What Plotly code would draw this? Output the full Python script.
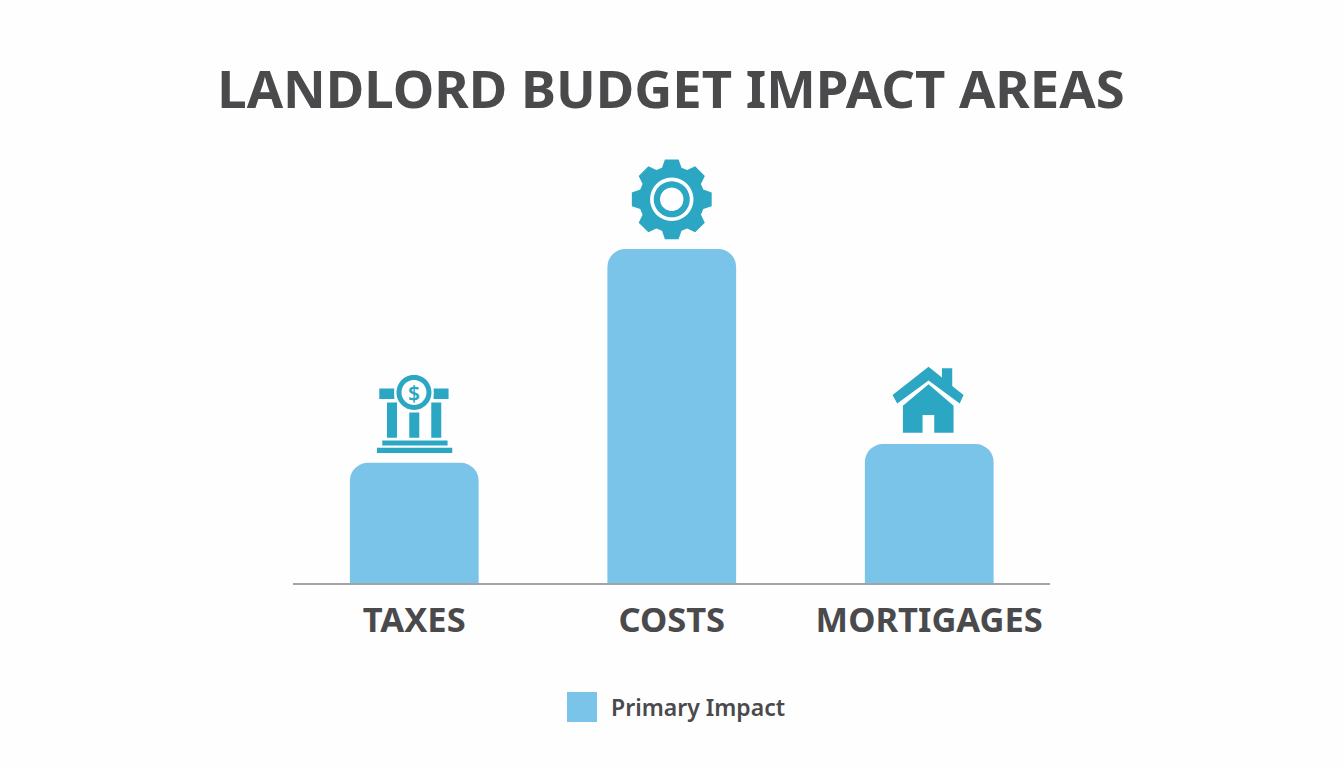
import math
import plotly.graph_objects as go

# Data
categories = ["TAXES", "COSTS", "MORTIGAGES"]
impact_values = [36, 100, 41.6]
series_name = "Primary Impact"
chart_title = "LANDLORD BUDGET IMPACT AREAS"

W, H = 1344, 768
FONT = "Noto Sans"
TEXT = "#4a4a4c"
BAR = "#7bc4e9"
TEAL = "#2ba7c3"
BG = "#fefefe"


def poly(pts):
    return "M" + "L".join(f"{x:.2f},{y:.2f}" for x, y in pts) + "Z"


def rect(x0, x1, y0, y1):
    return poly([(x0, y0), (x1, y0), (x1, y1), (x0, y1)])


def circle(cx, cy, r, n=48):
    return poly([(cx + r * math.cos(2 * math.pi * i / n), cy + r * math.sin(2 * math.pi * i / n)) for i in range(n)])


def gear(cx, cy, r_out, r_root, teeth=8):
    pts = []
    step = 2 * math.pi / teeth
    for i in range(teeth):
        a = math.pi / 2 + i * step
        for da, r in [(-0.3, r_root), (-0.17, r_out), (0.17, r_out), (0.3, r_root)]:
            pts.append((cx + r * math.cos(a + da), cy + r * math.sin(a + da)))
    return poly(pts)


def icon(idx, path, color=TEAL):
    """Shape anchored to a bar top: path is in pixels from the bar's centre/top, y up."""
    return dict(
        type="path", path=path, xref="x", yref="y",
        xsizemode="pixel", ysizemode="pixel",
        xanchor=categories[idx], yanchor=impact_values[idx],
        fillcolor=color, line=dict(width=0), layer="above",
    )


# Bank icon (relative to top of TAXES bar)
bank = "".join([
    rect(-35, -20, 63.7, 74.3), rect(19.3, 34.3, 63.7, 74.3),
    rect(-27.3, -17.3, 25, 60.3), rect(-5, 5, 25, 50.3), rect(17, 27, 25, 60.3),
    rect(-32, 33.3, 17.3, 22.3), rect(-37.3, 38, 9.7, 15),
])
bank_ring_bg = circle(-0.3, 70.3, 19.5)
bank_ring = circle(-0.3, 70.3, 17.5) + circle(-0.3, 70.3, 12.5)

# Gear icon (relative to top of COSTS bar)
gear_path = gear(0, 49.7, 40.5, 33) + circle(0, 49.7, 21.7)
gear_ring = circle(0, 49.7, 18) + circle(0, 49.7, 11.7)

# House icon (relative to top of MORTIGAGES bar)
roof = poly([(-0.7, 77.3), (12.7, 66.5), (12.7, 75.7), (23, 75.7), (23, 58), (34.3, 49),
             (30.5, 40.5), (-0.7, 63.5), (-32, 40.5), (-36.7, 49)])
body = poly([(-0.7, 59.7), (24.3, 38.3), (24.3, 11.3), (5, 11.3), (5, 29), (-6.7, 29),
             (-6.7, 11.3), (-26.3, 11.3), (-26.3, 38.3)])

fig = go.Figure(go.Bar(
    x=categories, y=impact_values, name=series_name, width=0.5,
    marker=dict(color=BAR, line=dict(width=0), cornerradius=18),
    showlegend=True, hoverinfo="x+y",
))

fig.update_layout(
    width=W, height=H, autosize=False,
    margin=dict(l=0, r=0, t=0, b=0),
    paper_bgcolor=BG, plot_bgcolor="rgba(0,0,0,0)",
    font=dict(family=FONT, color=TEXT),
    title=dict(
        text=chart_title, x=671 / W, xanchor="center", y=1 - 90 / H, yanchor="middle",
        font=dict(family=FONT, size=52.6, weight=700, color=TEXT),
    ),
    xaxis=dict(
        domain=[293 / W, 1050 / W], range=[-0.471, 2.469], type="category",
        showline=True, linecolor="#a3a3a5", linewidth=2, showgrid=False, ticks="",
        tickfont=dict(family=FONT, size=34.5, weight=700, color=TEXT), ticklabelstandoff=6,
    ),
    yaxis=dict(
        domain=[1 - 583 / H, 1 - (583 - 3.34 * 130) / H], range=[0, 130],
        visible=False, showgrid=False, zeroline=False,
    ),
    legend=dict(
        x=553 / W, xanchor="left", y=1 - 707 / H, yanchor="middle",
        itemwidth=48, bgcolor="rgba(0,0,0,0)",
        font=dict(family=FONT, size=23, weight=600, color=TEXT),
    ),
    shapes=[
        icon(0, bank),
        icon(0, bank_ring_bg, BG),
        icon(0, bank_ring),
        icon(1, gear_path),
        icon(1, gear_ring),
        icon(2, roof),
        icon(2, body),
    ],
    annotations=[dict(
        x=categories[0], y=impact_values[0], xref="x", yref="y", yshift=70, xshift=-0.3,
        text="$", showarrow=False, font=dict(family=FONT, size=21, weight=600, color=TEAL),
    )],
)

post = """
document.body.style.margin='0';
var gd=document.querySelector('.plotly-graph-div');
gd.querySelectorAll('.legend .legendbar path, .legend .legendpoints path').forEach(function(p){p.setAttribute('d','M15,15H-15V-15H15Z');});
"""
fig.write_html("out.html", post_script=post, config=dict(displayModeBar=False))
